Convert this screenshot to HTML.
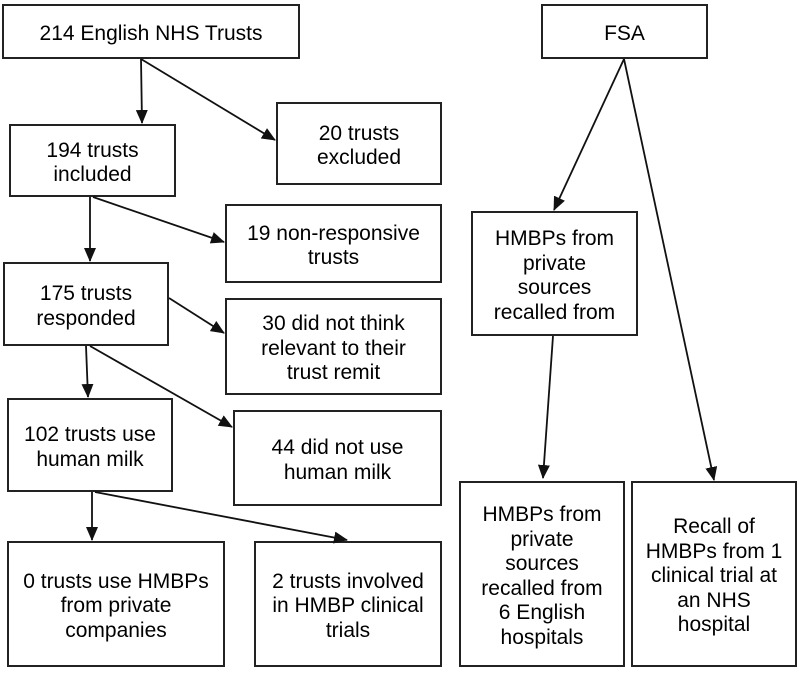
<!DOCTYPE html>
<html><head><meta charset="utf-8"><style>
html,body{margin:0;padding:0;background:#fff}
body{width:800px;height:673px;position:relative;overflow:hidden;font-family:"Liberation Sans",Arial,sans-serif;color:#000}
.b{position:absolute;border:2px solid #222;box-sizing:border-box;display:flex;align-items:center;justify-content:center;text-align:center;font-size:21px;line-height:24.5px;background:#fff;white-space:nowrap;padding-top:5px}
svg{position:absolute;left:0;top:0}
</style></head><body>
<div class="b" style="left:2px;top:4px;width:298px;height:55px">214 English NHS Trusts</div>
<div class="b" style="left:541px;top:4px;width:167px;height:55px">FSA</div>
<div class="b" style="left:9px;top:124px;width:167px;height:73px">194 trusts<br>included</div>
<div class="b" style="left:276px;top:102px;width:166px;height:83px">20 trusts<br>excluded</div>
<div class="b" style="left:225px;top:204px;width:217px;height:79px">19 non-responsive<br>trusts</div>
<div class="b" style="left:3px;top:262px;width:166px;height:84px">175 trusts<br>responded</div>
<div class="b" style="left:225px;top:298px;width:217px;height:97px">30 did not think<br>relevant to their<br>trust remit</div>
<div class="b" style="left:471px;top:211px;width:167px;height:125px">HMBPs from<br>private<br>sources<br>recalled from</div>
<div class="b" style="left:7px;top:398px;width:166px;height:94px">102 trusts use<br>human milk</div>
<div class="b" style="left:233px;top:410px;width:209px;height:96px">44 did not use<br>human milk</div>
<div class="b" style="left:7px;top:541px;width:218px;height:126px">0 trusts use HMBPs<br>from private<br>companies</div>
<div class="b" style="left:254px;top:541px;width:188px;height:126px">2 trusts involved<br>in HMBP clinical<br>trials</div>
<div class="b" style="left:459px;top:481px;width:166px;height:186px">HMBPs from<br>private<br>sources<br>recalled from<br>6 English<br>hospitals</div>
<div class="b" style="left:631px;top:481px;width:166px;height:186px">Recall of<br>HMBPs from 1<br>clinical trial at<br>an NHS<br>hospital</div>
<svg width="800" height="673">
<defs><marker id="a" markerWidth="14" markerHeight="12" refX="13" refY="6" orient="auto" markerUnits="userSpaceOnUse"><path d="M0,0 L14,6 L0,12 z" fill="#111"/></marker></defs>
<g stroke="#111" stroke-width="1.8" fill="none" marker-end="url(#a)">
<line x1="141" y1="59" x2="142" y2="123"/>
<line x1="141" y1="59" x2="275" y2="140"/>
<line x1="90" y1="197" x2="90" y2="261"/>
<line x1="93" y1="197" x2="224" y2="242"/>
<line x1="169" y1="298" x2="224" y2="333"/>
<line x1="86" y1="346" x2="88" y2="397"/>
<line x1="90" y1="346" x2="232" y2="427"/>
<line x1="92" y1="492" x2="92" y2="540"/>
<line x1="95" y1="492" x2="347" y2="540"/>
<line x1="624" y1="59" x2="554" y2="210"/>
<line x1="553" y1="336" x2="543" y2="478"/>
<line x1="624" y1="59" x2="714" y2="480"/>
</g></svg>
</body></html>
